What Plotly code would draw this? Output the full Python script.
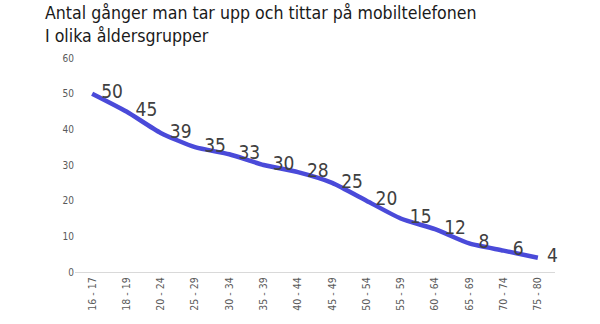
import plotly.graph_objects as go

age_groups = ["16 - 17", "18 - 19", "20 - 24", "25 - 29", "30 - 34", "35 - 39", "40 - 44",
              "45 - 49", "50 - 54", "55 - 59", "60 - 64", "65 - 69", "70 - 74", "75 - 80"]
pickups = [50, 45, 39, 35, 33, 30, 28, 25, 20, 15, 12, 8, 6, 4]

FONT = "DejaVu Sans Condensed, DejaVu Sans"

fig = go.Figure(go.Scatter(
    x=age_groups, y=pickups,
    mode="lines+markers+text",
    line=dict(color="#4a4ad9", width=4.5, shape="spline", smoothing=0.6),
    marker=dict(size=13, opacity=0),
    text=[str(v) for v in pickups],
    textposition="middle right",
    textfont=dict(family=FONT, size=19, color="#404040"),
    cliponaxis=False,
    hoverinfo="skip",
))

fig.add_annotation(
    text="Antal gånger man tar upp och tittar på mobiltelefonen<br>I olika åldersgrupper",
    xref="paper", yref="paper", x=-0.067, y=1.0, yshift=57,
    xanchor="left", yanchor="top", align="left", showarrow=False,
    font=dict(family=FONT, size=17.6, color="#1a1a1a"),
)

fig.update_layout(
    width=600, height=324,
    margin=dict(l=75, r=45, t=58, b=52),
    paper_bgcolor="white", plot_bgcolor="white",
    showlegend=False,
    xaxis=dict(
        type="category", range=[-0.5, 13.5],
        tickangle=-90, tickfont=dict(family=FONT, size=10.5, color="#595959"),
        showgrid=False, showline=True, linecolor="#d9d9d9", linewidth=1,
        ticks="", fixedrange=True,
    ),
    yaxis=dict(
        range=[0, 60], dtick=10, showgrid=False, zeroline=False,
        tickfont=dict(family=FONT, size=10, color="#595959"),
        ticks="", ticklen=0, fixedrange=True,
    ),
)

fig.write_html("out.html")
